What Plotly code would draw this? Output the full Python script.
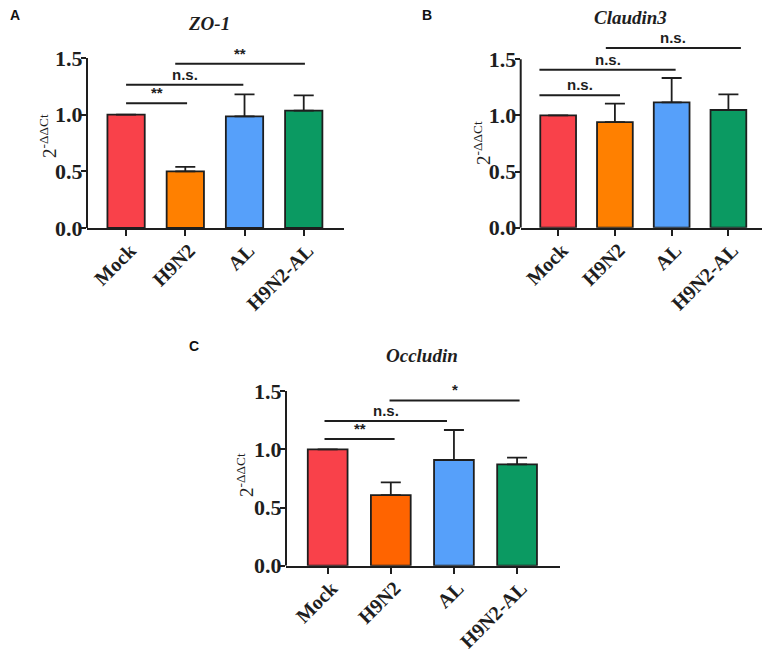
import plotly.graph_objects as go

groups = ["Mock", "H9N2", "AL", "H9N2-AL"]

zo1_mean = [1.0, 0.50, 0.985, 1.035]
zo1_err = [0, 0.04, 0.195, 0.135]

claudin3_mean = [1.0, 0.94, 1.117, 1.048]
claudin3_err = [0, 0.165, 0.216, 0.14]

occludin_mean = [1.0, 0.607, 0.908, 0.871]
occludin_err = [0, 0.109, 0.258, 0.057]

# comparisons: (from, to, height, label)
zo1_sig = [(0, 1.03, 1.10, "**"), (0, 1.98, 1.265, "n.s."), (0.83, 3.02, 1.45, "**")]
claudin3_sig = [(-0.33, 1.09, 1.18, "n.s."), (-0.33, 2.07, 1.407, "n.s."), (0.84, 3.22, 1.60, "n.s.")]
occludin_sig = [(-0.05, 1.06, 1.088, "**"), (-0.05, 1.89, 1.243, "n.s."), (0.98, 3.04, 1.42, "*")]

# the page body has an 8px margin, so the figure is made smaller and shifted
PAD = 8
W, H = 770 - PAD, 649 - PAD
SERIF = "Liberation Serif"
SANS = "Liberation Sans"
INK = "#1e1e1e"


def px(x):
    return (x - PAD) / W


def py(y):
    return 1 - (y - PAD) / H


colors_ab = ["#F9414A", "#FF8000", "#56A0FA", "#0B9A62"]
colors_c = ["#F9414A", "#FF6400", "#56A0FA", "#0B9A62"]

# pixel boxes in the reference: (left, right, y of zero, y of top)
panels = [
    dict(name="ZO-1", mean=zo1_mean, err=zo1_err, sig=zo1_sig, colors=colors_ab,
         box=(87, 344, 228, 29.7), title=(209, 23), letter=("A", 15, 15), ytitle=(48, 136)),
    dict(name="Claudin3", mean=claudin3_mean, err=claudin3_err, sig=claudin3_sig, colors=colors_ab,
         box=(520.7, 767, 227.7, 31.2), title=(630, 17), letter=("B", 427, 15), ytitle=(482, 143)),
    dict(name="Occludin", mean=occludin_mean, err=occludin_err, sig=occludin_sig, colors=colors_c,
         box=(286, 560, 565.7, 362), title=(422, 355), letter=("C", 194, 346), ytitle=(245, 475)),
]

fig = go.Figure()
shapes = []
annotations = []
layout = dict(
    width=W, height=H, margin=dict(l=0, r=0, t=0, b=0, autoexpand=False),
    paper_bgcolor="white", plot_bgcolor="white", showlegend=False,
)

for i, p in enumerate(panels):
    n = "" if i == 0 else str(i + 1)
    xa, ya = "x" + n, "y" + n
    left, right, y0, ytop = p["box"]

    fig.add_trace(go.Bar(
        x=list(range(len(groups))), y=p["mean"], width=0.63,
        marker=dict(color=p["colors"], line=dict(color=INK, width=1.8)),
        error_y=dict(type="data", array=p["err"], arrayminus=[0] * len(groups),
                     symmetric=False, color=INK, thickness=1.8, width=10),
        xaxis=xa, yaxis=ya, cliponaxis=False,
    ))

    layout["xaxis" + n] = dict(
        domain=[px(left), px(right)], range=[-0.66, 3.68], anchor=ya, automargin=False,
        tickmode="array", tickvals=list(range(len(groups))), ticktext=groups,
        tickangle=-45, ticks="outside", ticklen=6, tickwidth=2, tickcolor=INK,
        ticklabelstandoff=-5, ticklabelshift=4,
        showline=True, linecolor=INK, linewidth=2, showgrid=False, zeroline=False,
        tickfont=dict(family=SERIF, size=20, color=INK, weight="bold"),
    )
    layout["yaxis" + n] = dict(
        domain=[py(y0), py(ytop)], range=[0, 1.75], anchor=xa, automargin=False,
        tickmode="array", tickvals=[0, 0.5, 1.0, 1.5], ticktext=["0.0", "0.5", "1.0", "1.5"],
        ticks="outside", ticklen=5, tickwidth=2, tickcolor=INK, ticklabelstandoff=-6,
        showline=False, showgrid=False, zeroline=False,
        tickfont=dict(family=SERIF, size=22, color=INK, weight="bold"),
    )

    # y axis line stops at 1.5
    shapes.append(dict(type="line", xref="paper", yref=ya, x0=px(left), x1=px(left),
                       y0=0, y1=1.5, line=dict(color=INK, width=2)))

    for a, b, h, label in p["sig"]:
        shapes.append(dict(type="line", xref=xa, yref=ya, x0=a, x1=b, y0=h, y1=h,
                           line=dict(color=INK, width=2)))
        annotations.append(dict(x=(a + b) / 2, y=h, xref=xa, yref=ya, text="<b>%s</b>" % label,
                                showarrow=False, xanchor="center", yanchor="bottom",
                                font=dict(family=SANS, size=15, color=INK)))

    tx, ty = p["title"]
    annotations.append(dict(x=px(tx), y=py(ty), xref="paper", yref="paper",
                            xanchor="center", yanchor="middle",
                            text="<b><i>%s</i></b>" % p["name"], showarrow=False,
                            font=dict(family=SERIF, size=19, color=INK)))
    lt, lx, ly = p["letter"]
    annotations.append(dict(x=px(lx), y=py(ly), xref="paper", yref="paper",
                            xanchor="center", yanchor="middle",
                            text="<b>%s</b>" % lt, showarrow=False,
                            font=dict(family=SANS, size=14, color="#111111")))
    yx, yy = p["ytitle"]
    annotations.append(dict(x=px(yx), y=py(yy), xref="paper", yref="paper",
                            xanchor="center", yanchor="middle",
                            text="2<sup>-ΔΔCt</sup>", showarrow=False, textangle=-90,
                            font=dict(family=SERIF, size=19, color=INK)))

layout["shapes"] = shapes
layout["annotations"] = annotations
fig.update_layout(**layout)

fig.write_html("out.html")
